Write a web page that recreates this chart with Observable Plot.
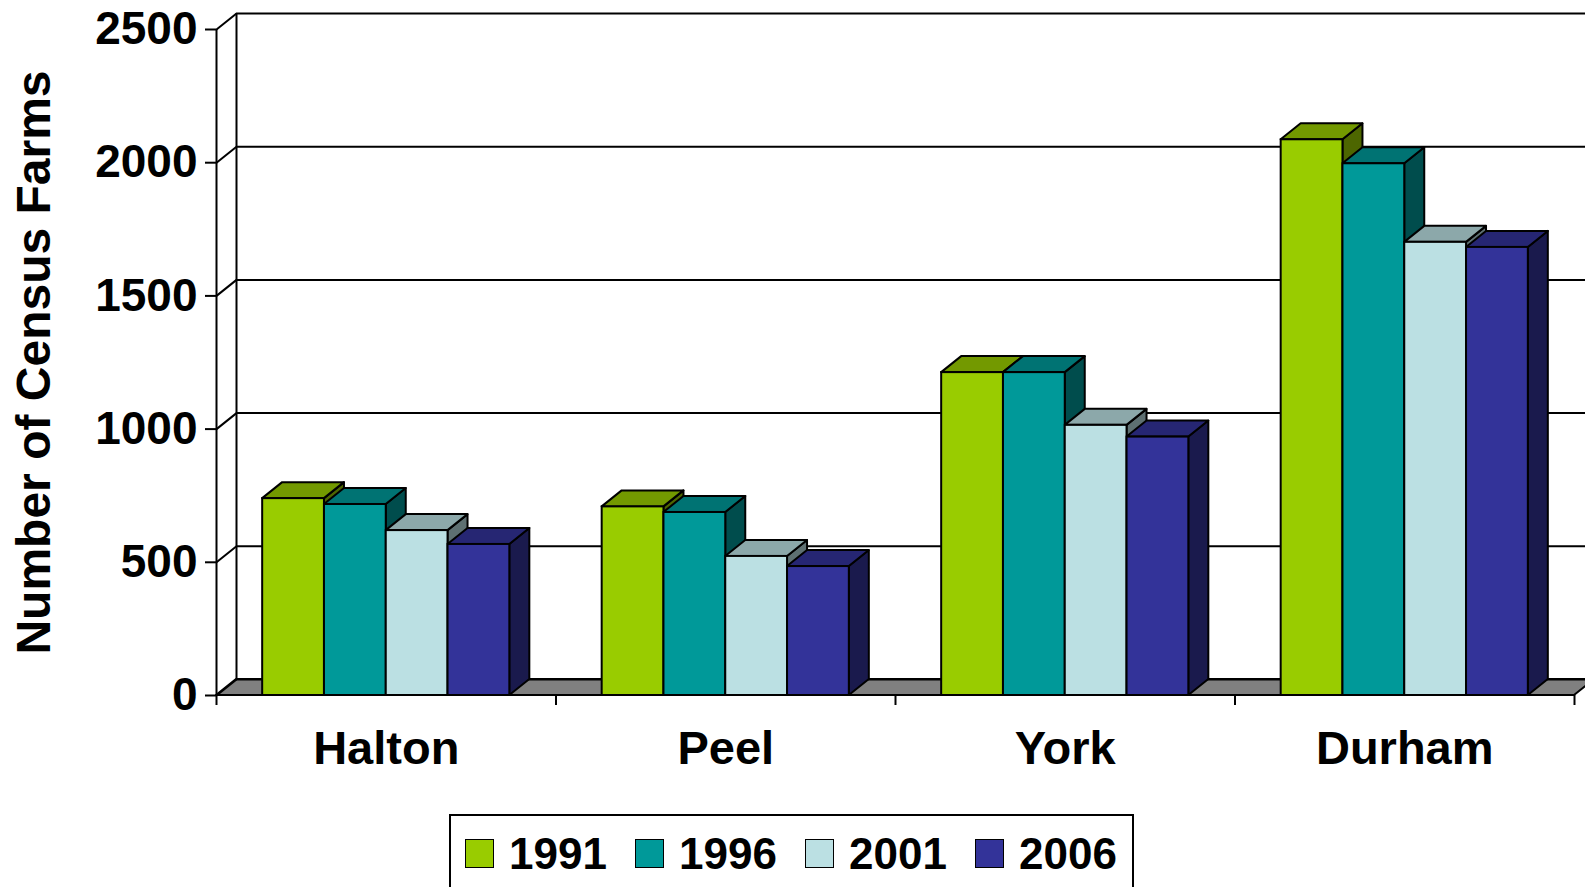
<!DOCTYPE html>
<html>
<head>
<meta charset="utf-8">
<script src="https://cdn.jsdelivr.net/npm/d3@7"></script>
<script src="https://cdn.jsdelivr.net/npm/@observablehq/plot@0.6"></script>
<style>
  html, body { margin: 0; padding: 0; background: #fff; overflow: hidden; width: 1585px; height: 887px; }
  #chart { position: absolute; left: 0; top: 0; }
  #chart svg { overflow: hidden; }
  #legend {
    position: absolute; left: 449px; top: 814px; width: 685px; height: 120px;
    box-sizing: border-box; border: 2px solid #000; background: #fff;
    font-family: "Liberation Sans", Arial, sans-serif; font-weight: bold; font-size: 44px;
  }
  .item { position: absolute; top: 23px; height: 29px; display: flex; align-items: center; }
  .sw { width: 29px; height: 29px; box-sizing: border-box; border: 1.5px solid #000; margin-right: 15px; }
  .lab { line-height: 44px; }
</style>
</head>
<body>
<div id="chart"></div>
<div id="legend"></div>
<script>
// ---- data ----
const regions = ["Halton", "Peel", "York", "Durham"];
const years = ["1991", "1996", "2001", "2006"];
const v1991 = [739, 708, 1212, 2086];
const v1996 = [717, 687, 1212, 1996];
const v2001 = [619, 522, 1014, 1701];
const v2006 = [567, 484, 970, 1682];
const yTicks = [0, 500, 1000, 1500, 2000, 2500];
const yTitle = "Number of Census Farms";

// ---- styles ----
const frontColors = ["#99CC00", "#009999", "#BBE0E3", "#333399"];
const topColors   = ["#739900", "#007373", "#8CA8AA", "#262673"];
const sideColors  = ["#4D6600", "#004D4D", "#5E7072", "#1A1A4D"];
const FONT = '"Liberation Sans", Arial, sans-serif';

// ---- layout ----
const W = 1585, H = 800, ML = 216, MR = 11, MT = 29, MB = 105;
const pxX = (W - ML - MR) / regions.length;   // px per category unit
const pxY = (H - MT - MB) / 2500;             // px per value unit
const ux = 20 / pxX, uy = 16 / pxY;           // 3-D depth offset in data units
const PAD = 0.136, BW = 0.182;                // bar layout within a category band

const series = [v1991, v1996, v2001, v2006];
const bars = regions.flatMap((r, i) => years.map((y, j) => ({
  id: r + y, region: r, year: y, i, j, value: series[j][i],
  xl: i + PAD + j * BW, xr: i + PAD + (j + 1) * BW
})));

const sides = bars.flatMap(b => [
  {id: b.id, x: b.xr, y1: 0, y2: b.value, c: sideColors[b.j]},
  {id: b.id, x: b.xr + ux, y1: uy, y2: b.value + uy, c: sideColors[b.j]}
]);
const tops = bars.flatMap(b => [
  {id: b.id, y: b.value, x1: b.xl, x2: b.xr, c: topColors[b.j]},
  {id: b.id, y: b.value + uy, x1: b.xl + ux, x2: b.xr + ux, c: topColors[b.j]}
]);
const floor = [
  {y: 0, x1: 0, x2: regions.length},
  {y: uy, x1: ux, x2: regions.length + ux}
];

const plot = Plot.plot({
  width: W, height: H,
  marginLeft: ML, marginRight: MR, marginTop: MT, marginBottom: MB,
  style: {fontFamily: FONT, background: "#fff"},
  x: {type: "linear", domain: [0, regions.length], axis: null},
  y: {domain: [0, 2500], axis: null},
  marks: [
    // floor
    Plot.areaX(floor, {y: "y", x1: "x1", x2: "x2", fill: "#808080", stroke: "#000", strokeWidth: 2}),
    // back wall gridlines
    Plot.ruleY(yTicks, {y: d => d + uy, x1: ux, x2: regions.length + 2 * ux, stroke: "#000", strokeWidth: 2}),
    // back wall vertical edge
    Plot.ruleX([ux], {y1: uy, y2: 2500 + uy, stroke: "#000", strokeWidth: 2}),
    // left wall diagonals
    Plot.link(yTicks, {x1: 0, y1: d => d, x2: ux, y2: d => d + uy, stroke: "#000", strokeWidth: 2}),
    // front vertical axis
    Plot.ruleX([0], {y1: 0, y2: 2500, stroke: "#000", strokeWidth: 2}),
    // category tick marks
    Plot.ruleX(d3.range(regions.length + 1), {y1: 0, y2: -10 / pxY, stroke: "#000", strokeWidth: 2}),
    // bars: sides, tops, fronts
    Plot.areaY(sides, {x: "x", y1: "y1", y2: "y2", z: "id", fill: "c", stroke: "#000", strokeWidth: 2, strokeLinejoin: "round"}),
    Plot.areaX(tops, {y: "y", x1: "x1", x2: "x2", z: "id", fill: "c", stroke: "#000", strokeWidth: 2, strokeLinejoin: "round"}),
    Plot.rect(bars, {x1: "xl", x2: "xr", y1: 0, y2: "value", fill: d => frontColors[d.j], stroke: "#000", strokeWidth: 2}),
    // y axis
    Plot.axisY(yTicks, {tickSize: 11, tickPadding: 8, tickFormat: "d", fontSize: 46, fontWeight: "bold", label: null, stroke: "#000", strokeWidth: 2}),
    // category labels
    Plot.text(regions, {x: (d, i) => i + 0.5, y: 0, dy: 53, text: d => d, fontSize: 47, fontWeight: "bold", fill: "#000"}),
    // y title
    Plot.text([yTitle], {frameAnchor: "left", dx: -182, rotate: -90, textAnchor: "middle", text: d => d, fontSize: 48, fontWeight: "bold", fill: "#000"})
  ]
});
document.getElementById("chart").appendChild(plot);

// legend
const legend = document.getElementById("legend");
years.forEach((y, k) => {
  const it = document.createElement("div");
  it.className = "item";
  it.style.left = (14 + k * 170) + "px";
  const sw = document.createElement("div");
  sw.className = "sw";
  sw.style.background = frontColors[k];
  const lab = document.createElement("span");
  lab.className = "lab";
  lab.textContent = y;
  it.appendChild(sw); it.appendChild(lab);
  legend.appendChild(it);
});
</script>
</body>
</html>
